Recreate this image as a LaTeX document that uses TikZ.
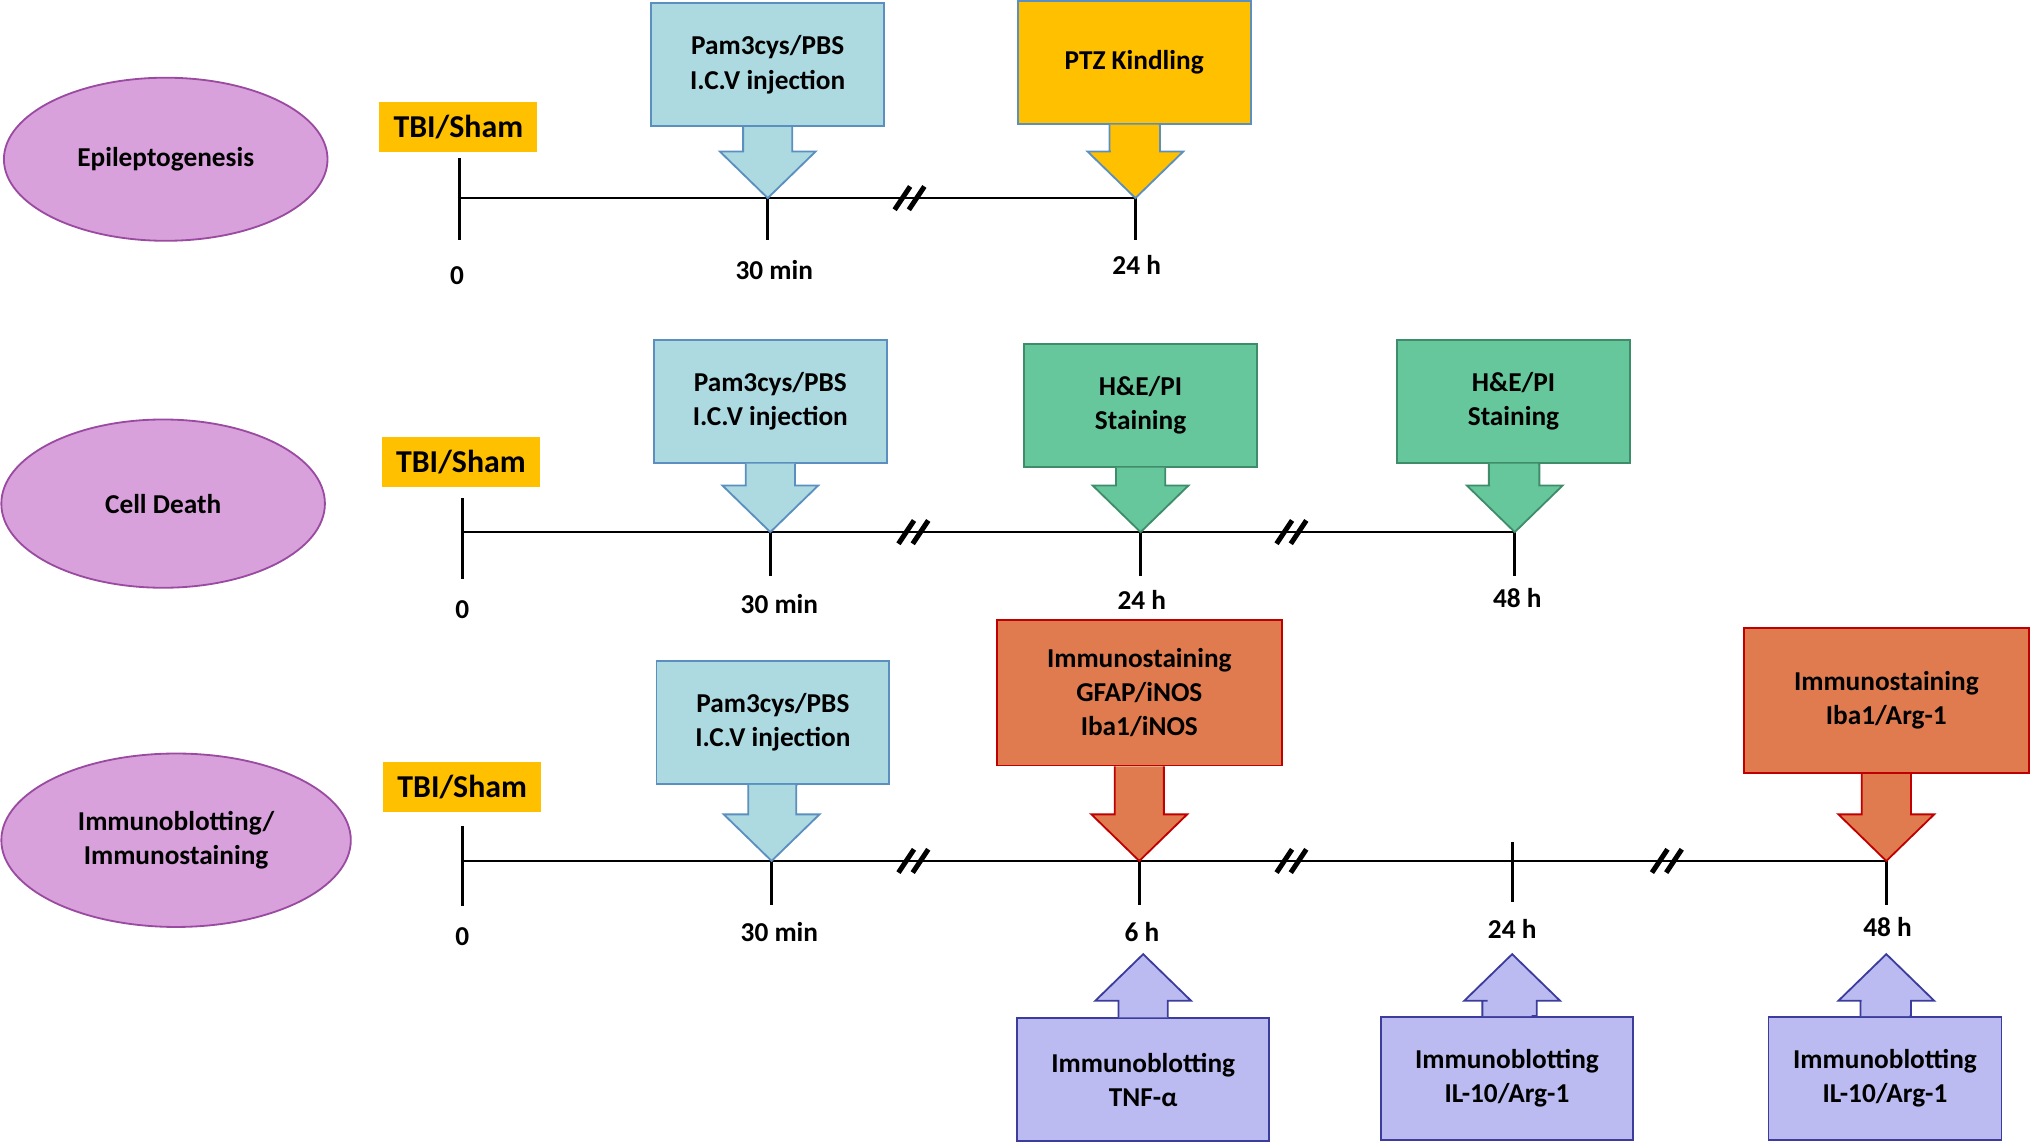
\documentclass[tikz,border=0pt]{standalone}
\usepackage{fontspec}
\setmainfont{Carlito}
\usetikzlibrary{calc, positioning}
\definecolor{tbi}{HTML}{FFC000}
\definecolor{phase}{HTML}{D9A1DC}
\definecolor{phaseline}{HTML}{9A4AA0}
\definecolor{inj}{HTML}{ADD9E1}
\definecolor{injline}{HTML}{5A8FC0}
\definecolor{stain}{HTML}{66C69C}
\definecolor{stainline}{HTML}{3F8C6A}
\definecolor{immuno}{HTML}{E07B4F}
\definecolor{immunoline}{HTML}{C00000}
\definecolor{blot}{HTML}{BBBBF2}
\definecolor{blotline}{HTML}{3C3C9C}
\tikzset{
  txt/.style = {font=\fontsize{12}{15}\selectfont\bfseries, align=center},
  phase/.style = {ellipse, draw=phaseline, fill=phase, thick, txt},
  tbi/.style = {rectangle, fill=tbi, txt, font=\fontsize{14}{16}\selectfont\bfseries,
    minimum width=2.44cm, minimum height=0.78cm},
  box/.style = {rectangle, thick, txt, minimum width=3.6cm, minimum height=1.9cm},
  inj/.style = {box, draw=injline, fill=inj},
  stain/.style = {box, draw=stainline, fill=stain},
  kindle/.style = {box, draw=injline, fill=tbi},
  immuno/.style = {box, draw=immunoline, fill=immuno, minimum width=4.4cm, minimum height=2.25cm},
  blot/.style = {box, draw=blotline, fill=blot, minimum width=3.9cm},
  line/.style = {line width=1.2pt, black},
  tlabel/.style = {txt, below},
  brk/.style = {line width=2.2pt, black}
}
\usetikzlibrary{shapes.geometric}
% callout arrows: box node, tip coordinate, style
\newcommand{\dnarrow}[3]{\draw[#3] ($(#1.south)+(-19,0)$) |- ($(#2)+(-19,-36)$) -- ($(#2)+(-37,-36)$) -- (#2) -- ($(#2)+(37,-36)$) -- ($(#2)+(19,-36)$) |- ($(#1.south)+(19,0)$);}
\newcommand{\uparr}[3]{\draw[#3] ($(#1.north)+(-19,0)$) |- ($(#2)+(-19,36)$) -- ($(#2)+(-37,36)$) -- (#2) -- ($(#2)+(37,36)$) -- ($(#2)+(19,36)$) |- ($(#1.north)+(19,0)$);}
\newcommand{\breakmark}[2]{\draw[brk] ($(#1,#2)+(-14,9)$) -- ++(12,-18) ($(#1,#2)+(-3,9)$) -- ++(12,-18);}
\begin{document}
\begin{tikzpicture}[x=0.02cm, y=-0.02cm]
\useasboundingbox (0,0) rectangle (1568,883);

% ==== Epileptogenesis
\node (ph1) [phase, minimum width=5cm, minimum height=2.52cm] at (128,123) {Epileptogenesis};
\node (tbi1) [tbi] at (354,98) {TBI/Sham};
\coordinate (a0) at (355,153);
\coordinate (a1) at (593,153);
\coordinate (a2) at (877,153);
\draw [line] (a0) -- (a2);
\draw [line] (355,122) -- (355,185);
\draw [line] (a1) -- ++(0,32);
\draw [line] (a2) ++(0,-6) -- ++(0,38);
\breakmark{705}{153}
\node (l10) [tlabel] at (353,200) {0};
\node (l11) [tlabel] at (598,195) {30 min};
\node (l12) [tlabel] at (878,191) {24 h};
\node (inj1) [inj] at (593,50) {Pam3cys/PBS\\I.C.V injection};
\node (ptz) [kindle] at (876,48) {PTZ Kindling};
\dnarrow{inj1}{a1}{inj, draw=injline, thick}
\dnarrow{ptz}{a2}{fill=tbi, draw=injline, thick}

% ==== Cell Death
\node (ph2) [phase, minimum width=5cm, minimum height=2.6cm] at (126,389) {Cell Death};
\node (tbi2) [tbi] at (356,357) {TBI/Sham};
\coordinate (b0) at (357,411);
\coordinate (b1) at (595,411);
\coordinate (b2) at (881,411);
\coordinate (b3) at (1170,411);
\draw [line] (b0) -- (b3);
\draw [line] (357,385) -- (357,447);
\foreach \p in {b1,b2,b3} \draw [line] (\p) -- ++(0,34);
\breakmark{708}{411}
\breakmark{1000}{411}
\node (l20) [tlabel] at (357,458) {0};
\node (l21) [tlabel] at (602,453) {30 min};
\node (l22) [tlabel] at (882,450) {24 h};
\node (l23) [tlabel] at (1172,448) {48 h};
\node (inj2) [inj] at (595,310) {Pam3cys/PBS\\I.C.V injection};
\node (he1) [stain] at (881,313) {H\&E/PI\\Staining};
\node (he2) [stain] at (1169,310) {H\&E/PI\\Staining};
\dnarrow{inj2}{b1}{fill=inj, draw=injline, thick}
\dnarrow{he1}{b2}{fill=stain, draw=stainline, thick}
\dnarrow{he2}{b3}{fill=stain, draw=stainline, thick}

% ==== Immunoblotting/Immunostaining
\node (ph3) [phase, minimum width=5.4cm, minimum height=2.68cm] at (136,649) {Immunoblotting/\\Immunostaining};
\node (tbi3) [tbi] at (357,608) {TBI/Sham};
\coordinate (c0) at (357,665);
\coordinate (c1) at (596,665);
\coordinate (c2) at (880,665);
\coordinate (c3) at (1168,665);
\coordinate (c4) at (1457,665);
\draw [line] (c0) -- (c4);
\draw [line] (357,638) -- (357,700);
\foreach \p in {c1,c2,c4} \draw [line] (\p) -- ++(0,34);
\draw [line] (1168,650) -- (1168,697);
\breakmark{708}{665}
\breakmark{1000}{665}
\breakmark{1290}{665}
\node (l30) [tlabel] at (357,710) {0};
\node (l31) [tlabel] at (602,706) {30 min};
\node (l32) [tlabel] at (882,706) {6 h};
\node (l33) [tlabel] at (1168,704) {24 h};
\node (l34) [tlabel] at (1458,702) {48 h};
\node (inj3) [inj] at (597,558) {Pam3cys/PBS\\I.C.V injection};
\node (ims1) [immuno] at (880,535) {Immunostaining\\GFAP/iNOS\\Iba1/iNOS};
\node (ims2) [immuno] at (1457,541) {Immunostaining\\Iba1/Arg-1};
\dnarrow{inj3}{c1}{fill=inj, draw=injline, thick}
\dnarrow{ims1}{c2}{fill=immuno, draw=immunoline, thick}
\dnarrow{ims2}{c4}{fill=immuno, draw=immunoline, thick}
\coordinate (d1) at (883,737);
\coordinate (d2) at (1168,737);
\coordinate (d3) at (1457,737);
\node (ib1) [blot] at (883,834) {Immunoblotting\\TNF-α};
\node (ib2) [blot] at (1164,833) {Immunoblotting\\IL-10/Arg-1};
\node (ib3) [blot, minimum width=3.6cm] at (1456,833) {Immunoblotting\\IL-10/Arg-1};
\uparr{ib1}{d1}{fill=blot, draw=blotline, thick}
\uparr{ib2}{d2}{fill=blot, draw=blotline, thick}
\uparr{ib3}{d3}{fill=blot, draw=blotline, thick}

\end{tikzpicture}
\end{document}
